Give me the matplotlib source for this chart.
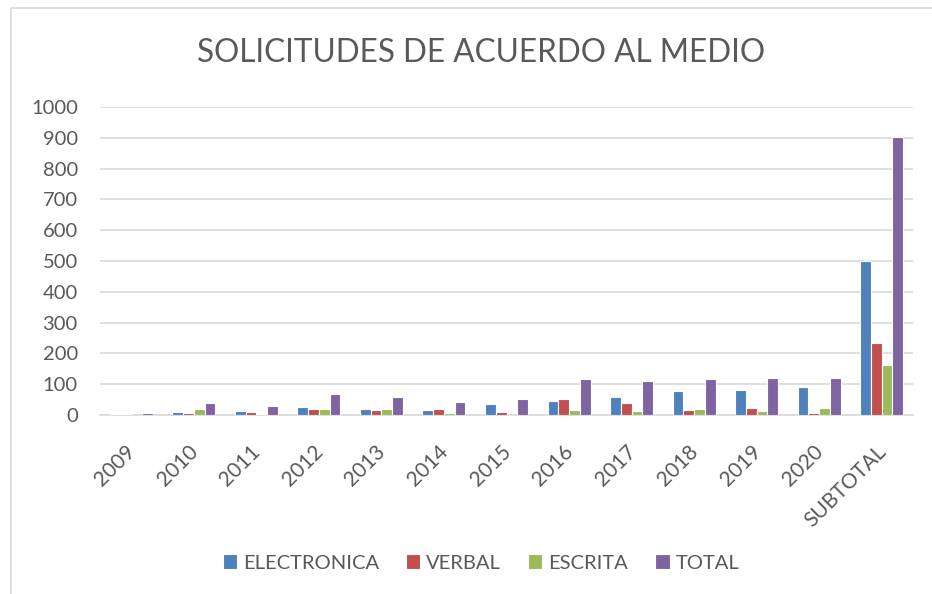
import numpy as np
import matplotlib.pyplot as plt
import matplotlib.transforms as mtransforms
from matplotlib.patches import Rectangle

plt.rcParams['font.family'] = ['Lato', 'DejaVu Sans']

categorias = ['2009', '2010', '2011', '2012', '2013', '2014', '2015', '2016',
              '2017', '2018', '2019', '2020', 'SUBTOTAL']
electronica = [2, 11, 14, 25, 20, 16, 37, 45, 58, 79, 80, 91, 500]
verbal = [2, 5, 9, 19, 15, 20, 11, 53, 38, 17, 22, 5, 235]
escrita = [0, 19, 3, 19, 18, 5, 0, 17, 12, 18, 14, 22, 163]
total = [8, 40, 29, 67, 57, 43, 51, 117, 111, 117, 121, 121, 901]

series = [('ELECTRONICA', electronica, '#4F81BD'),
          ('VERBAL', verbal, '#C0504D'),
          ('ESCRITA', escrita, '#9BBB59'),
          ('TOTAL', total, '#8064A2')]

gris = '#595959'
W, H = 932, 594
fig = plt.figure(figsize=(W / 100, H / 100), dpi=100)
ax = fig.add_axes([100 / W, 1 - 415 / H, 813 / W, 308 / H])

x = np.arange(len(categorias))
ancho = 0.172
for i, (nombre, vals, color) in enumerate(series):
    ax.bar(x + (i - 1.5) * ancho, vals, ancho, color=color, label=nombre,
           edgecolor='white', linewidth=0.8, zorder=3)

ax.set_xlim(-0.5, len(categorias) - 0.5)
ax.set_ylim(0, 1000)
ax.set_yticks(range(0, 1001, 100))
ax.yaxis.grid(True, color='#D9D9D9', linewidth=1.2, zorder=0)
for s in ['top', 'right', 'left']:
    ax.spines[s].set_visible(False)
ax.spines['bottom'].set_color('#D9D9D9')
ax.spines['bottom'].set_linewidth(1.2)
ax.tick_params(length=0, labelsize=14.5, labelcolor=gris)
ax.tick_params(axis='y', pad=16)
ax.set_xticks(x)
ax.set_xticklabels(categorias, rotation=45, ha='right', rotation_mode='anchor',
                   fontsize=15)
ax.tick_params(axis='x', pad=19)
# mover las etiquetas del eje x un poco a la izquierda
desplaza = mtransforms.ScaledTranslation(-6 / 100, 0, fig.dpi_scale_trans)
for lab in ax.get_xticklabels():
    lab.set_transform(lab.get_transform() + desplaza)

fig.text(481 / W, 1 - 53 / H, 'SOLICITUDES DE ACUERDO AL MEDIO', ha='center',
         va='center', fontsize=22.7, color=gris)

fig.legend(loc='center', bbox_to_anchor=(481 / W, 1 - 563 / H), ncol=4,
           frameon=False, fontsize=14.5, labelcolor=gris, handlelength=0.7,
           handleheight=0.7, handletextpad=0.3, columnspacing=1.35)

fig.patches.append(Rectangle((11 / W, -0.1), 1.2, 1 - 8 / H + 0.1,
                             transform=fig.transFigure, fill=False,
                             edgecolor='#D9D9D9', linewidth=1.2))

fig.savefig('out.png', dpi=100)
